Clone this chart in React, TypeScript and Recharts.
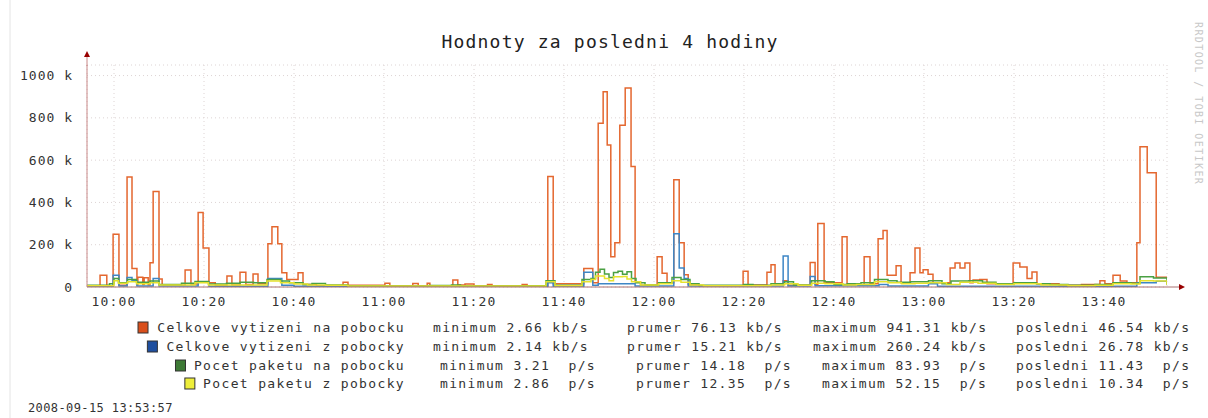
import { LineChart, Line, XAxis, YAxis, CartesianGrid } from "recharts"

// time = minutes after 10:00, value = k (packets scaled x1000)
const inboundBits: [number, number][] = [
  [-6, 6], [-3.1, 55], [-1.6, 6], [-0.2, 250], [1.1, 8], [2.9, 520], [4.0, 88], [5.1, 10],
  [5.3, 46], [6.4, 12], [6.7, 44], [7.6, 10], [8.0, 115], [8.7, 452], [10.0, 38], [10.7, 8],
  [15.8, 80], [17.1, 14], [18.7, 352], [19.8, 185], [21.1, 20], [22.5, 8], [25.1, 52], [26.2, 10],
  [28.0, 70], [29.3, 12], [30.9, 62], [32.0, 15], [34.2, 204], [35.1, 285], [36.4, 204], [37.3, 67],
  [38.4, 35], [40.9, 67], [42.0, 12], [45, 6], [50.9, 22], [52.0, 8], [60.2, 18], [61.3, 6],
  [66.4, 16], [67.6, 6], [69.6, 18], [70.2, 6], [75.3, 33], [76.4, 10], [78, 14], [80, 6],
  [83, 12], [84, 6], [90.7, 12], [91.8, 5], [96.4, 523], [97.6, 15], [104.4, 88], [106.4, 20],
  [107.6, 775], [108.7, 924], [109.6, 672], [110.4, 143], [111.3, 209], [112.4, 765], [113.6, 941],
  [114.9, 570], [115.8, 25], [117, 8], [120.7, 143], [121.8, 65], [122.9, 20], [124.4, 507],
  [125.6, 209], [126.7, 58], [127.6, 12], [130, 6], [139.8, 75], [140.9, 10], [145.1, 70],
  [146.0, 105], [146.9, 15], [148.7, 30], [149.8, 8], [154.7, 116], [155.8, 12], [156.4, 300],
  [157.8, 20], [161.8, 238], [162.9, 10], [166.7, 143], [168.0, 15], [169.8, 228], [170.9, 267],
  [171.8, 55], [173.8, 100], [174.9, 20], [176.9, 67], [178.0, 185], [179.1, 67], [179.8, 81],
  [180.9, 60], [182.0, 20], [185.8, 90], [186.9, 114], [188.0, 90], [189.1, 114], [190.2, 20],
  [190.9, 33], [192.4, 36], [194.0, 15], [199.8, 114], [201.3, 95], [202.9, 40], [204.0, 71],
  [205.1, 15], [210, 8], [215, 12], [219.1, 30], [220.2, 15], [222.0, 55], [223.6, 28],
  [225.1, 20], [227.3, 209], [228.0, 663], [229.6, 540], [231.6, 46], [234, 46],
]

const outboundBits: [number, number][] = [
  [-6, 4], [-0.2, 55], [1.1, 5], [2.9, 45], [4.0, 30], [5.1, 5], [8.7, 40], [10.0, 5],
  [18.7, 25], [21.1, 4], [34.2, 40], [37.3, 8], [40, 4], [96.4, 20], [97.6, 4], [104.4, 70],
  [106.4, 8], [107.6, 15], [115.8, 5], [124.4, 252], [125.6, 90], [126.7, 40], [127.6, 5],
  [148.7, 147], [149.8, 5], [154.7, 50], [155.8, 6], [170, 12], [172, 5], [181, 15], [183, 4],
  [227.3, 20], [231.6, 27], [234, 27],
]

const inboundPackets: [number, number][] = [
  [-6, 8], [-1, 15], [0, 40], [1, 20], [3, 35], [5, 22], [8, 28], [10, 12], [15, 18], [18, 26],
  [21, 14], [25, 18], [28, 22], [31, 20], [34, 35], [37, 28], [39, 20], [42, 12], [44, 16],
  [47, 10], [52, 6], [60, 5], [70, 7], [75, 10], [77, 5], [90, 6], [96, 30], [98, 8], [104, 35],
  [106, 40], [107, 70], [108, 84], [109, 62], [110, 45], [111, 68], [112, 75], [113, 60],
  [114, 72], [115, 40], [116, 20], [118, 10], [121, 20], [124, 45], [126, 35], [128, 15],
  [130, 8], [140, 12], [142, 8], [146, 15], [149, 25], [151, 10], [155, 30], [158, 25], [160, 12],
  [163, 15], [166, 20], [169, 35], [172, 30], [174, 22], [177, 25], [181, 30], [184, 15],
  [186, 28], [190, 30], [193, 22], [196, 15], [200, 20], [205, 15], [208, 12], [212, 8],
  [218, 12], [222, 20], [226, 18], [228, 48], [231, 42], [234, 11],
]

const outboundPackets: [number, number][] = [
  [-6, 6], [0, 30], [1, 18], [3, 25], [5, 15], [8, 20], [10, 10], [18, 20], [21, 10], [34, 28],
  [37, 20], [40, 14], [43, 10], [47, 8], [52, 5], [96, 25], [98, 6], [104, 25], [106, 35],
  [107, 52], [109, 40], [110, 30], [111, 48], [113, 50], [114, 38], [115, 25], [117, 10],
  [121, 15], [124, 30], [126, 22], [128, 10], [131, 6], [146, 10], [149, 15], [152, 8], [155, 18],
  [158, 15], [162, 10], [165, 12], [169, 25], [172, 20], [175, 15], [178, 18], [181, 20],
  [185, 12], [188, 22], [192, 18], [196, 12], [200, 15], [206, 10], [212, 6], [218, 8],
  [222, 15], [226, 14], [228, 30], [231, 28], [234, 10],
]

const X_TICKS = [0, 20, 40, 60, 80, 100, 120, 140, 160, 180, 200, 220]
const X_TICK_LABELS = ["10:00", "10:20", "10:40", "11:00", "11:20", "11:40", "12:00", "12:20", "12:40", "13:00", "13:20", "13:40"]
const Y_TICKS = [0, 200, 400, 600, 800, 1000]

const LEGEND_NAMES = [
  "Celkove vytizeni na pobocku",
  "Celkove vytizeni z pobocky",
  "Pocet paketu na pobocku",
  "Pocet paketu z pobocky",
]
const MINIMUM = ["minimum 2.66 kb/s", "minimum 2.14 kb/s", "minimum 3.21  p/s", "minimum 2.86  p/s"]
const PRUMER = ["prumer 76.13 kb/s", "prumer 15.21 kb/s", "prumer 14.18  p/s", "prumer 12.35  p/s"]
const MAXIMUM = ["maximum 941.31 kb/s", "maximum 260.24 kb/s", "maximum 83.93  p/s", "maximum 52.15  p/s"]
const POSLEDNI = ["posledni 46.54 kb/s", "posledni 26.78 kb/s", "posledni 11.43  p/s", "posledni 10.34  p/s"]

const LINE_COLORS = ["#e4672f", "#3d86c6", "#4aa043", "#e6e22e"]
const SWATCH_COLORS = ["#d94f1c", "#1f4f9f", "#3e7a36", "#eeee3a"]

const FONT = "'DejaVu Sans Mono', monospace"

const toPoints = (s: [number, number][]) => s.map(([t, v]) => ({ t, v }))

export default function App() {
  const rows = [328, 347, 366, 384]
  const nameRight = 405
  const minX = [433, 433, 440, 440]
  const prumerX = [627, 627, 636, 636]
  const maxX = [813, 813, 822, 822]

  return (
    <div style={{ position: "absolute", left: 0, top: 0, width: 1208, height: 418, background: "#fff" }}>
      <LineChart width={1208} height={418} margin={{ top: 65, right: 41, bottom: 101, left: 27 }}>
        <CartesianGrid stroke="#ddd4d4" strokeDasharray="1 3" />
        <XAxis
          type="number"
          dataKey="t"
          domain={[-6, 234]}
          ticks={X_TICKS}
          allowDataOverflow
          tickFormatter={(v) => X_TICK_LABELS[X_TICKS.indexOf(v)]}
          axisLine={{ stroke: "#a87070" }}
          tickLine={false}
          tickSize={6}
          tickMargin={4}
          height={30}
          tick={{ fill: "#333", fontSize: 13, fontFamily: FONT, letterSpacing: 1.2 }}
        />
        <YAxis
          type="number"
          domain={[0, 1050]}
          ticks={Y_TICKS}
          allowDataOverflow
          tickFormatter={(v) => (v === 0 ? "0" : `${v} k`)}
          axisLine={{ stroke: "#c88888" }}
          tickLine={false}
          tickSize={6}
          tickMargin={8}
          width={60}
          tick={{ fill: "#333", fontSize: 13, fontFamily: FONT, letterSpacing: 1 }}
        />
        <Line data={toPoints(inboundBits)} dataKey="v" type="stepAfter" stroke={LINE_COLORS[0]} strokeWidth={1.5} dot={false} isAnimationActive={false} />
        <Line data={toPoints(outboundBits)} dataKey="v" type="stepAfter" stroke={LINE_COLORS[1]} strokeWidth={1.5} dot={false} isAnimationActive={false} />
        <Line data={toPoints(inboundPackets)} dataKey="v" type="stepAfter" stroke={LINE_COLORS[2]} strokeWidth={1.5} dot={false} isAnimationActive={false} />
        <Line data={toPoints(outboundPackets)} dataKey="v" type="stepAfter" stroke={LINE_COLORS[3]} strokeWidth={1.5} dot={false} isAnimationActive={false} />
      </LineChart>

      <svg width={1208} height={418} style={{ position: "absolute", left: 0, top: 0, pointerEvents: "none" }}>
        <line x1={10} y1={0} x2={10} y2={418} stroke="#e4e4e4" />
        {/* axis arrows */}
        <line x1={87} y1={66} x2={87} y2={56} stroke="#c88888" />
        <polygon points="84,57 90,57 87,51" fill="#990000" />
        <line x1={1167} y1={287} x2={1180} y2={287} stroke="#a87070" />
        <polygon points="1179,284 1179,290 1185,287" fill="#990000" />

        <text x={610} y={48} textAnchor="middle" fontFamily={FONT} fontSize={18} letterSpacing={1.2} fill="#222">
          Hodnoty za posledni 4 hodiny
        </text>

        <text x={1195} y={22} transform="rotate(90 1195 22)" fontFamily={FONT} fontSize={10} letterSpacing={1.4} fill="#c8c8c8">
          RRDTOOL / TOBI OETIKER
        </text>

        {rows.map((y, i) => (
          <g key={i} fontFamily={FONT} fontSize={13} letterSpacing={1.35} fill="#333" style={{ whiteSpace: "pre" }}>
            <text x={nameRight} y={y + 4} textAnchor="end">{LEGEND_NAMES[i]}</text>
            <rect
              x={nameRight - LEGEND_NAMES[i].length * 9.37 - 14}
              y={y - 6}
              width={10}
              height={11}
              fill={SWATCH_COLORS[i]}
              stroke="#333"
              strokeWidth={1}
            />
            <text x={minX[i]} y={y + 4} xmlSpace="preserve">{MINIMUM[i]}</text>
            <text x={prumerX[i]} y={y + 4} xmlSpace="preserve">{PRUMER[i]}</text>
            <text x={maxX[i]} y={y + 4} xmlSpace="preserve">{MAXIMUM[i]}</text>
            <text x={1016} y={y + 4} xmlSpace="preserve">{POSLEDNI[i]}</text>
          </g>
        ))}

        <text x={28} y={412} fontFamily={FONT} fontSize={12} letterSpacing={0.4} fill="#333">
          2008-09-15 13:53:57
        </text>
      </svg>
    </div>
  )
}
